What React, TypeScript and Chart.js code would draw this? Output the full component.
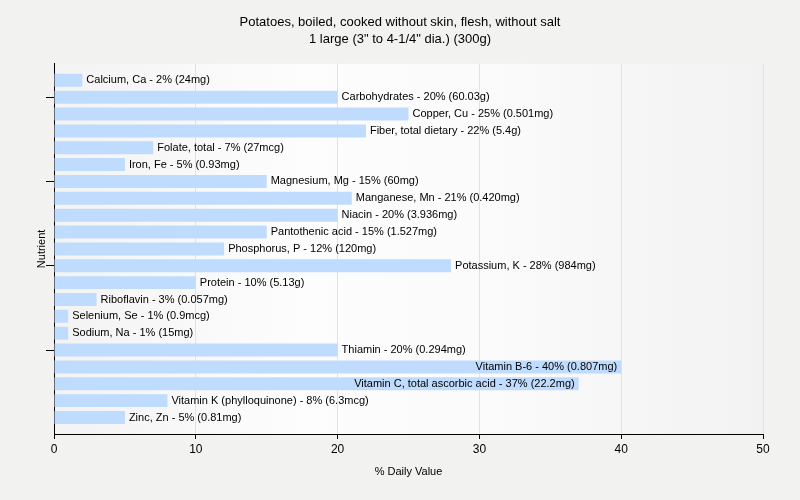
import React, { useEffect, useRef } from "react";
import { Chart, registerables } from "chart.js";

Chart.register(...registerables);

const TITLE_LINES = [
  "Potatoes, boiled, cooked without skin, flesh, without salt",
  '1 large (3" to 4-1/4" dia.) (300g)',
];

const nutrients = [
  "Calcium, Ca",
  "Carbohydrates",
  "Copper, Cu",
  "Fiber, total dietary",
  "Folate, total",
  "Iron, Fe",
  "Magnesium, Mg",
  "Manganese, Mn",
  "Niacin",
  "Pantothenic acid",
  "Phosphorus, P",
  "Potassium, K",
  "Protein",
  "Riboflavin",
  "Selenium, Se",
  "Sodium, Na",
  "Thiamin",
  "Vitamin B-6",
  "Vitamin C, total ascorbic acid",
  "Vitamin K (phylloquinone)",
  "Zinc, Zn",
];

const dailyValues = [2, 20, 25, 22, 7, 5, 15, 21, 20, 15, 12, 28, 10, 3, 1, 1, 20, 40, 37, 8, 5];

const amounts = [
  "24mg",
  "60.03g",
  "0.501mg",
  "5.4g",
  "27mcg",
  "0.93mg",
  "60mg",
  "0.420mg",
  "3.936mg",
  "1.527mg",
  "120mg",
  "984mg",
  "5.13g",
  "0.057mg",
  "0.9mcg",
  "15mg",
  "0.294mg",
  "0.807mg",
  "22.2mg",
  "6.3mcg",
  "0.81mg",
];

const xTicks = [0, 10, 20, 30, 40, 50];

const FONT = "'Liberation Sans', Arial, sans-serif";

const barLabels = nutrients.map((n, i) => `${n} - ${dailyValues[i]}% (${amounts[i]})`);

const bgPlugin = {
  id: "bgPlugin",
  beforeDraw(chart: any) {
    const { ctx, chartArea, width, height } = chart;
    ctx.save();
    ctx.fillStyle = "#f2f2f1";
    ctx.fillRect(0, 0, width, height);
    const g = ctx.createLinearGradient(chartArea.left, 0, chartArea.right, 0);
    g.addColorStop(0, "#f3f3f3");
    g.addColorStop(0.35, "#fdfdfd");
    g.addColorStop(0.6, "#fbfbfb");
    g.addColorStop(1, "#f2f2f2");
    ctx.fillStyle = g;
    ctx.fillRect(chartArea.left, chartArea.top, chartArea.right - chartArea.left, chartArea.bottom - chartArea.top);
    ctx.restore();
  },
};

const labelPlugin = {
  id: "labelPlugin",
  afterDatasetsDraw(chart: any) {
    const { ctx, chartArea } = chart;
    const meta = chart.getDatasetMeta(0);
    ctx.save();
    ctx.font = `11px ${FONT}`;
    ctx.fillStyle = "#000";
    ctx.textBaseline = "middle";
    meta.data.forEach((bar: any, i: number) => {
      const text = barLabels[i];
      const w = ctx.measureText(text).width;
      if (bar.x + 4 + w > chartArea.right) {
        ctx.textAlign = "right";
        ctx.fillText(text, bar.x - 4, bar.y);
      } else {
        ctx.textAlign = "left";
        ctx.fillText(text, bar.x + 4, bar.y);
      }
    });
    ctx.restore();
  },
};

const Y_EXTRA = 0.48;

export default function App() {
  const ref = useRef<HTMLCanvasElement>(null);
  useEffect(() => {
    document.body.style.margin = "0";
    const chart = new Chart(ref.current!, {
      type: "bar",
      data: {
        labels: nutrients,
        datasets: [
          {
            data: dailyValues,
            backgroundColor: "#bfdbfd",
            borderWidth: 0,
            barPercentage: 0.77,
            categoryPercentage: 1,
          },
        ],
      },
      options: {
        indexAxis: "y",
        responsive: false,
        animation: false,
        devicePixelRatio: 1,
        layout: { padding: 0 },
        plugins: {
          legend: { display: false },
          tooltip: { enabled: false },
          title: {
            display: true,
            text: TITLE_LINES,
            color: "#000",
            font: { family: FONT, size: 13, weight: "normal", lineHeight: 1.3 },
            padding: { top: 14, bottom: 16 },
          },
        },
        scales: {
          x: {
            type: "linear",
            min: 0,
            max: 50,
            afterBuildTicks: (s: any) => {
              s.ticks = xTicks.map((v) => ({ value: v }));
            },
            ticks: { color: "#000", font: { family: FONT, size: 12 }, padding: 3 },
            grid: { color: "#e2e2e2", tickColor: "#000", tickLength: 5 },
            border: { color: "#000", width: 1 },
            title: {
              display: true,
              text: "% Daily Value",
              color: "#000",
              font: { family: FONT, size: 11 },
              padding: { top: 0, bottom: 21 },
            },
            afterFit: (s: any) => {
              s.height = 66;
            },
          },
          y: {
            type: "category",
            afterBuildTicks: (s: any) => {
              s._startValue = -0.5 - Y_EXTRA;
              s._valueRange = nutrients.length + 2 * Y_EXTRA;
            },
            grid: {
              offset: false,
              drawOnChartArea: false,
              tickLength: 8,
              tickColor: (c: any) => (c.index % 5 === 1 ? "#000" : "rgba(0,0,0,0)"),
            },
            ticks: { display: false, autoSkip: false },
            border: { color: "#000", width: 1 },
            title: {
              display: true,
              text: "Nutrient",
              color: "#000",
              font: { family: FONT, size: 11 },
              padding: { top: 35, bottom: 0 },
            },
            afterFit: (s: any) => {
              s.width = 54;
            },
          },
          yRight: {
            type: "category",
            position: "right",
            display: true,
            grid: { display: false, drawTicks: false },
            border: { display: false },
            ticks: { display: false },
            afterFit: (s: any) => {
              s.width = 37;
            },
          },
        },
      },
      plugins: [bgPlugin, labelPlugin],
    } as any);
    return () => chart.destroy();
  }, []);
  return <canvas ref={ref} width={800} height={500} style={{ display: "block" }} />;
}
